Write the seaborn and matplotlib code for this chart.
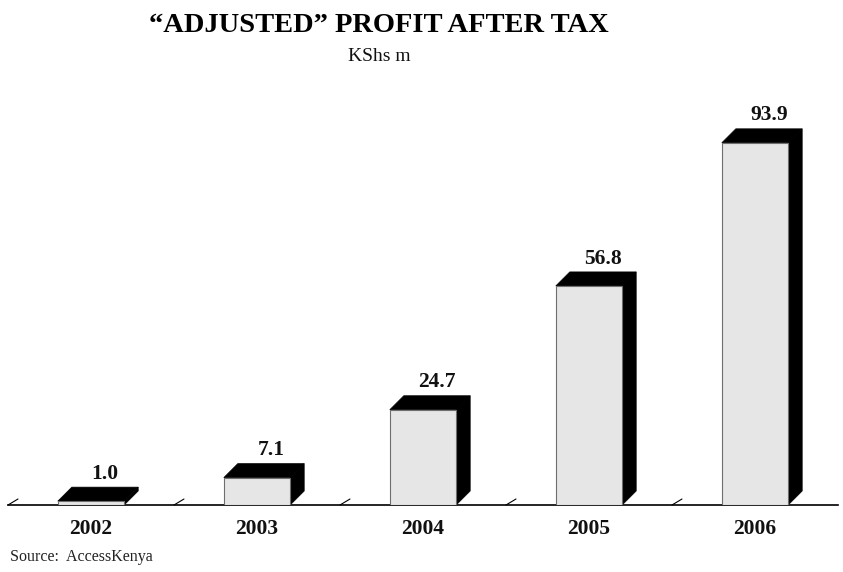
import matplotlib
matplotlib.use("Agg")
import matplotlib.pyplot as plt
from matplotlib.patches import Polygon
import seaborn as sns
import pandas as pd

years = ["2002", "2003", "2004", "2005", "2006"]
profit = [1.0, 7.1, 24.7, 56.8, 93.9]
value_labels = ["1.0", "7.1", "24.7", "56.8", "93.9"]

sns.set_theme(style="white")
plt.rcParams["font.family"] = ["Liberation Serif", "DejaVu Serif"]

df = pd.DataFrame({"year": years, "profit": profit})

W, H = 843, 572
fig = plt.figure(figsize=(W / 100, H / 100), dpi=100)
ax_left, ax_right = 8 / W, 838 / W
ax_bottom, ax_top = (H - 505) / H, (H - 100) / H
ax = fig.add_axes([ax_left, ax_bottom, ax_right - ax_left, ax_top - ax_bottom])

sns.barplot(data=df, x="year", y="profit", ax=ax, color="#e6e6e6",
            width=0.4, saturation=1, edgecolor="#6e6e6e", linewidth=0.8,
            zorder=3)
ax.set_xlim(-0.5, 4.5)
ax.set_ylim(0, 105)

# depth in data units (14 px)
px_x = (4.5 - (-0.5)) / (838 - 8)
px_y = 105 / (505 - 100)
dx, dy = 14 * px_x, 14 * px_y

for patch in ax.patches[:len(profit)]:
    x0 = patch.get_x()
    x1 = x0 + patch.get_width()
    h = patch.get_height()
    top = Polygon([(x0, h), (x0 + dx, h + dy), (x1 + dx, h + dy), (x1, h)],
                  closed=True, facecolor="black", edgecolor="black",
                  linewidth=0.5, zorder=2)
    side = Polygon([(x1, 0), (x1, h), (x1 + dx, h + dy), (x1 + dx, dy)],
                   closed=True, facecolor="black", edgecolor="black",
                   linewidth=0.5, zorder=2)
    ax.add_patch(top)
    ax.add_patch(side)

for i, (v, lab) in enumerate(zip(profit, value_labels)):
    ax.annotate(lab, xy=(i + dx, v + dy), xytext=(0, 6),
                textcoords="offset points", ha="center", va="baseline",
                fontsize=15.5, fontweight="bold", color="#111111")

# diagonal slash ticks at category boundaries
for b in [-0.5, 0.5, 1.5, 2.5, 3.5]:
    ax.plot([b, b + 10 * px_x], [0, 6 * px_y], color="black", lw=0.8,
            zorder=4, clip_on=False)

for s in ["top", "right", "left"]:
    ax.spines[s].set_visible(False)
ax.spines["bottom"].set_color("black")
ax.spines["bottom"].set_linewidth(1.2)
ax.set_yticks([])
ax.set_xlabel("")
ax.set_ylabel("")
ax.tick_params(axis="x", length=0, pad=10)
for t in ax.get_xticklabels():
    t.set_fontsize(15.5)
    t.set_fontweight("bold")
    t.set_color("#111111")

fig.text(379 / W, 1 - 32 / H, "\u201cADJUSTED\u201d PROFIT AFTER TAX",
         ha="center", va="baseline", fontsize=20.5, fontweight="bold",
         color="black")
fig.text(379 / W, 1 - 61 / H, "KShs m", ha="center", va="baseline",
         fontsize=14, color="#111111")
fig.text(10 / W, 1 - 561 / H, "Source:  AccessKenya", ha="left",
         va="baseline", fontsize=11.5, color="#222222")

fig.savefig("out.png", dpi=100)
